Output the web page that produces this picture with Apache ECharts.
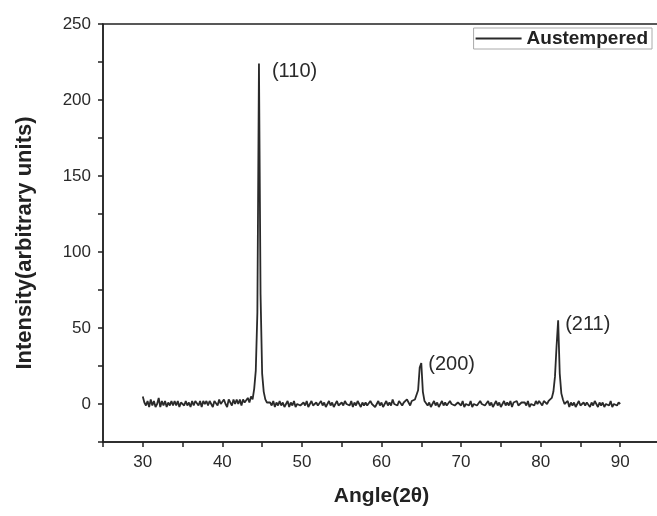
<!DOCTYPE html>
<html>
<head>
<meta charset="utf-8">
<script src="https://cdn.jsdelivr.net/npm/echarts@6/dist/echarts.min.js"></script>
<style>
html,body{margin:0;padding:0;background:#fff;}
#chart{width:657px;height:516px;}
</style>
</head>
<body>
<div id="chart"></div>
<script>
// Sampling of the scan: 2θ from 30 to 90 in steps of 0.2
const angleStart = 30;
const angleStep = 0.2;
// Intensity (arbitrary units), one value per 0.2° step, 10 values per row (2° per row)
const intensity = [
  5, 1, -1, 2, -2, 3, -1, 2, -2, 0,    // 30.0-31.8
  4, -2, 2, -1, 2, -2, 1, -1, 2, -1,   // 32.0-33.8
  2, -1, 2, -2, 1, 2, -1, 2, -1, 1,    // 34.0-35.8
  -2, 2, -1, 2, 1, -1, 2, -2, 2, 0,    // 36.0-37.8
  2, -1, 2, 0, -2, 2, 1, -1, 3, 0,     // 38.0-39.8
  -1, 3, 0, -2, 3, 1, -1, 3, 0, 3,     // 40.0-41.8
  0, 3, -1, 3, 1, 2, 4, 1, 5, 3,       // 42.0-43.8
  10, 22, 60, 224, 72, 20, 8, 3, 1, 2, // 44.0-45.8
  1, -1, 2, -2, 1, -1, 2, -1, 1, -2,   // 46.0-47.8
  0, 2, -2, 1, -1, 2, -2, 0, 1, -1,    // 48.0-49.8
  -2, 1, -1, 2, -2, 0, 2, -1, -2, 1,   // 50.0-51.8
  -1, -2, 2, -1, 1, -2, 0, 2, -1, 1,   // 52.0-53.8
  -2, 0, 2, -1, -2, 1, -1, 2, 0, 1,    // 54.0-55.8
  -1, 2, -2, 1, -1, 2, 0, -2, 1, -1,   // 56.0-57.8
  1, -1, -2, 2, 0, 1, -2, 0, 2, -1,    // 58.0-59.8
  1, -2, 0, 2, -1, 1, -1, 3, 0, 1,     // 60.0-61.8
  -1, 2, 3, -1, 1, 0, 3, 1, -1, 2,     // 62.0-63.8
  1, 3, 3, 9, 24, 27, 8, 2, 1, -1,     // 64.0-65.8
  1, -2, 0, 2, -1, 1, -2, 0, 2, -1,    // 66.0-67.8
  1, -1, -2, 2, 0, 1, -1, -2, 1, 0,    // 68.0-69.8
  -1, 2, -2, 0, 1, -1, 2, -2, 0, 1,    // 70.0-71.8
  -1, -2, 2, 0, 1, -1, -2, 2, -1, 1,   // 72.0-73.8
  -2, 0, 2, -1, 1, -2, 0, 2, -1, 1,    // 74.0-75.8
  -1, 2, -2, 1, 0, 2, -1, -2, 1, 0,    // 76.0-77.8
  1, -1, 2, -2, 0, 1, -1, 2, 0, 2,     // 78.0-79.8
  1, -1, 2, 1, 0, 2, 3, 4, 8, 18,      // 80.0-81.8
  38, 55, 20, 7, 3, 0, -1, 2, -2, 1,   // 82.0-83.8
  -1, 1, -2, 0, 2, -1, -2, 1, -1, 1,   // 84.0-85.8
  0, -2, 1, -1, 2, 0, -2, 1, -1, 1,    // 86.0-87.8
  -2, 0, 1, -1, 2, -2, 0, 1, -1, 1,    // 88.0-89.8
  0                                    // 90.0
];
// Peak annotations (Miller indices), at peak angle / intensity
const peakLabels = ['(110)', '(200)', '(211)'];
const peakAngles = [44.6, 65.0, 82.2];
const peakValues = [224, 27, 55];
const seriesName = 'Austempered';
const xTickLabels = [30, 40, 50, 60, 70, 80, 90];
const yTickLabels = [0, 50, 100, 150, 200, 250];

const points = intensity.map((v, i) => [+(angleStart + i * angleStep).toFixed(1), v]);

const chart = echarts.init(document.getElementById('chart'), null, {renderer: 'canvas'});
const FONT = '"Liberation Sans", Arial, Helvetica, sans-serif';
chart.setOption({
  animation: false,
  backgroundColor: '#fff',
  grid: {
    left: 103, top: 24, width: 557, height: 418,
    outerBoundsMode: 'none', containLabel: false,
    show: true, borderColor: '#222', borderWidth: 1.5, backgroundColor: 'transparent'
  },
  legend: {
    data: [seriesName],
    right: 5, top: 28,
    icon: 'rect', itemWidth: 46, itemHeight: 2,
    borderColor: '#aaa', borderWidth: 1, padding: [1, 4, 1, 2], itemGap: 6,
    textStyle: {fontFamily: FONT, fontWeight: 'bold', fontSize: 19, color: '#222'}
  },
  xAxis: {
    type: 'value', min: 25, max: 95, interval: 5,
    name: 'Angle(2θ)', nameLocation: 'middle', nameGap: 44,
    nameTextStyle: {fontFamily: FONT, fontWeight: 'bold', fontSize: 21, color: '#222'},
    axisLine: {show: true, onZero: false, lineStyle: {color: '#222', width: 1.5}},
    axisTick: {show: true, inside: false, length: 5, lineStyle: {color: '#222', width: 1.5}},
    splitLine: {show: false},
    axisLabel: {
      fontFamily: FONT, fontSize: 17, color: '#2a2a2a', margin: 12,
      formatter: v => xTickLabels.indexOf(v) >= 0 ? String(v) : ''
    }
  },
  yAxis: {
    type: 'value', min: -25, max: 250, interval: 25,
    name: 'Intensity(arbitrary units)', nameLocation: 'middle', nameGap: 67,
    nameTextStyle: {fontFamily: FONT, fontWeight: 'bold', fontSize: 22, color: '#222', padding: [0, 20, 0, 0]},
    axisLine: {show: true, onZero: false, lineStyle: {color: '#222', width: 1.5}},
    axisTick: {show: true, inside: false, length: 5, lineStyle: {color: '#222', width: 1.5}},
    splitLine: {show: false},
    axisLabel: {
      fontFamily: FONT, fontSize: 17, color: '#2a2a2a', margin: 12,
      formatter: v => yTickLabels.indexOf(v) >= 0 ? String(v) : ''
    }
  },
  series: [{
    name: seriesName,
    type: 'line',
    data: points,
    showSymbol: false,
    symbol: 'none',
    lineStyle: {color: '#2a2a2a', width: 1.8},
    itemStyle: {color: '#2a2a2a'},
    markPoint: {
      symbol: 'circle', symbolSize: 0,
      label: {
        show: true, position: 'right',
        fontFamily: FONT, fontSize: 20, color: '#2a2a2a',
        formatter: p => p.name
      },
      data: peakLabels.map((t, i) => ({
        name: t, coord: [peakAngles[i], peakValues[i]],
        label: {offset: [i === 0 ? 8 : 2, i === 0 ? 8 : (i === 1 ? 2 : 4)]}
      }))
    }
  }]
});
</script>
</body>
</html>
